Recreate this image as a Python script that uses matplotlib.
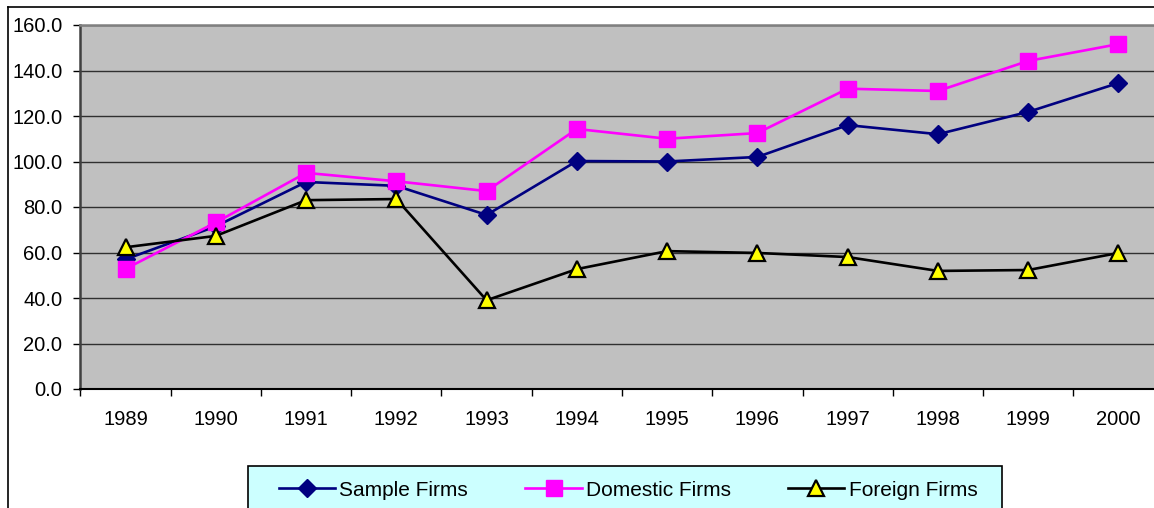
import matplotlib
matplotlib.use("Agg")
import matplotlib.pyplot as plt
from matplotlib.patches import Rectangle
from matplotlib.lines import Line2D
import numpy as np

plt.rcParams['font.family'] = ['Liberation Sans', 'DejaVu Sans']

years = ['1989', '1990', '1991', '1992', '1993', '1994', '1995', '1996',
         '1997', '1998', '1999', '2000']
sample_firms = [57.0, 71.5, 91.0, 89.3, 76.5, 100.2, 100.0, 102.0, 116.0, 112.0, 121.8, 134.5]
domestic_firms = [52.8, 73.2, 95.0, 91.3, 87.0, 114.3, 110.0, 112.5, 132.0, 131.0, 144.2, 151.6]
foreign_firms = [62.3, 67.3, 83.0, 83.5, 39.0, 52.7, 60.6, 59.8, 58.0, 51.9, 52.3, 59.8]
series_labels = ['Sample Firms', 'Domestic Firms', 'Foreign Firms']
yticks = [0, 20, 40, 60, 80, 100, 120, 140, 160]

W, H = 1154, 508
fig = plt.figure(figsize=(W / 100, H / 100), dpi=100)

left_px, right_px, top_px, bot_px = 80.4, 1163.6, 25, 389
ax = fig.add_axes([left_px / W, 1 - bot_px / H, (right_px - left_px) / W, (bot_px - top_px) / H])
ax.set_facecolor('#C0C0C0')

x = np.arange(len(years))
l1, = ax.plot(x, sample_firms, color='#000080', lw=1.9, marker='D', markersize=9,
              markerfacecolor='#000080', markeredgecolor='#000080', zorder=3, clip_on=False)
l2, = ax.plot(x, domestic_firms, color='#FF00FF', lw=1.9, marker='s', markersize=11,
              markerfacecolor='#FF00FF', markeredgecolor='#FF00FF', zorder=4, clip_on=False)
l3, = ax.plot(x, foreign_firms, color='#000000', lw=1.9, marker='^', markersize=11,
              markerfacecolor='#FFFF00', markeredgecolor='#000000', markeredgewidth=1.6,
              zorder=5, clip_on=False)

ax.set_xlim(-0.5, len(years) - 0.5)
ax.set_ylim(0, 160)
ax.set_yticks(yticks)
ax.set_yticklabels([f"{v:.1f}" for v in yticks], fontsize=14.5)
ax.yaxis.grid(True, color='#303030', lw=1.0)
ax.set_axisbelow(True)

ax.set_xticks(x)
ax.set_xticklabels(years, fontsize=14.5)
ax.set_xticks(np.arange(-0.5, len(years), 1.0), minor=True)
ax.tick_params(axis='x', which='major', length=0, pad=15)
ax.tick_params(axis='x', which='minor', length=5, width=1, color='black', direction='out')
ax.tick_params(axis='y', length=5, width=1, color='black', direction='out', pad=8)

for s in ['right']:
    ax.spines[s].set_visible(False)
ax.spines['top'].set_color('#808080')
ax.spines['top'].set_linewidth(1.8)
ax.spines['left'].set_color('#404040')
ax.spines['left'].set_linewidth(1.8)
ax.spines['bottom'].set_color('#000000')
ax.spines['bottom'].set_linewidth(1.5)

# outer chart border
fig.add_artist(Line2D([8 / W, 8 / W], [0, 1 - 7 / H], transform=fig.transFigure, color='black', lw=1.2))
fig.add_artist(Line2D([8 / W, 1], [1 - 7 / H, 1 - 7 / H], transform=fig.transFigure, color='black', lw=1.2))

# legend box
fig.add_artist(Rectangle((247.5 / W, -0.02), (1002 - 247.5) / W, (1 - 466 / H) + 0.02,
                         transform=fig.transFigure, facecolor='#CCFFFF', edgecolor='black', lw=1.2))
leg = fig.legend([l1, l2, l3], series_labels, loc='center left',
                 bbox_to_anchor=(279 / W, 1 - 490 / H), ncol=3, frameon=False,
                 fontsize=15, handlelength=2.7, handletextpad=0.2, columnspacing=2.75,
                 borderpad=0, borderaxespad=0)

fig.savefig('out.png', dpi=100)
